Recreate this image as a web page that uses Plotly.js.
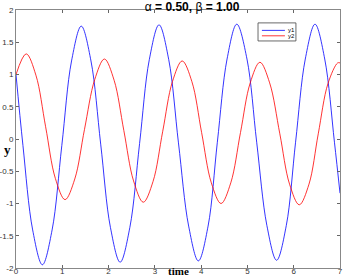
<!DOCTYPE html>
<html>
<head>
<meta charset="utf-8">
<script src="https://cdn.plot.ly/plotly-3.0.1.min.js"></script>
<style>
  html, body { margin: 0; padding: 0; background: #fff; }
  #grafico { width: 343px; height: 277px; }
</style>
</head>
<body>
<div id="grafico"></div>
<script>
// valores (extremos e pontos intermediarios)
const tempo1 = [0, 0.15, 0.36, 0.57, 0.78, 0.99, 1.20, 1.41, 1.62, 1.83, 2.04, 2.25, 2.46, 2.67, 2.88,
    3.09, 3.30, 3.51, 3.73, 3.94, 4.15, 4.35, 4.56, 4.77, 4.99, 5.20, 5.42, 5.63, 5.84, 6.04,
    6.25, 6.46, 6.67, 6.88, 7.00];
const y1 = [1.00, -0.10, -1.41, -1.95, -1.41, -0.10, 1.21, 1.75, 1.21, -0.08, -1.37, -1.91, -1.37, -0.07, 1.23,
    1.77, 1.23, -0.06, -1.35, -1.89, -1.35, -0.05, 1.24, 1.78, 1.24, -0.05, -1.34, -1.88, -1.34, -0.05,
    1.24, 1.78, 1.24, -0.05, -0.84];

const tempo2 = [0, 0.22, 0.43, 0.64, 0.85, 1.06, 1.27, 1.48, 1.70, 1.91, 2.12, 2.33, 2.54, 2.75, 2.96,
    3.17, 3.38, 3.59, 3.80, 4.01, 4.22, 4.43, 4.64, 4.85, 5.06, 5.27, 5.48, 5.70, 5.91, 6.12,
    6.33, 6.53, 6.74, 6.95, 7.00];
const y2 = [1.00, 1.32, 0.99, 0.19, -0.61, -0.94, -0.62, 0.15, 0.92, 1.24, 0.91, 0.13, -0.65, -0.98, -0.66,
    0.12, 0.89, 1.21, 0.89, 0.10, -0.68, -1.00, -0.68, 0.10, 0.87, 1.19, 0.87, 0.08, -0.70, -1.02,
    -0.70, 0.08, 0.86, 1.18, 1.18];

const nomes = ['y1', 'y2'];
const cores = ['rgb(0,0,255)', 'rgb(255,0,0)'];

const xTicks = [0, 1, 2, 3, 4, 5, 6, 7];
const yTicks = [-2, -1.5, -1, -0.5, 0, 0.5, 1, 1.5, 2];
const yTickText = ['-2', '-1.5', '-1', '-0.5', '0', '0.5', '1', '1.5', '2'];

var data = [
    {
        x: tempo1, y: y1, name: nomes[0], type: 'scatter', mode: 'lines',
        line: {color: cores[0], width: 0.8, shape: 'spline', smoothing: 1}
    },
    {
        x: tempo2, y: y2, name: nomes[1], type: 'scatter', mode: 'lines',
        line: {color: cores[1], width: 0.8, shape: 'spline', smoothing: 1}
    }
];

var eixo = {
    showline: true, linecolor: '#888', linewidth: 1, mirror: 'ticks',
    ticks: 'inside', ticklen: 3, tickcolor: '#666', tickwidth: 1,
    showgrid: false, zeroline: false,
    tickfont: {family: 'Liberation Sans', size: 8, color: '#333'}
};

// legenda pequena no estilo do matlab (caixa + amostras de linha)
var shapes = [
    {type: 'rect', xref: 'paper', yref: 'paper', x0: 0.747, x1: 0.864, y0: 0.880, y1: 0.950,
        fillcolor: '#fff', line: {color: '#444', width: 0.8}}
];
var annotations = [
    {text: '<b>time</b>', xref: 'paper', yref: 'paper', x: 0.5, y: -0.012,
        xanchor: 'center', yanchor: 'middle', showarrow: false,
        font: {family: 'Liberation Serif', size: 11, color: '#000'}},
    {text: '<b>y</b>', xref: 'paper', yref: 'paper', x: -0.025, y: 0.46,
        xanchor: 'center', yanchor: 'middle', showarrow: false,
        font: {family: 'Liberation Serif', size: 13, color: '#000'}}
];
var legY = [0.921, 0.900];
for (let i = 0; i < nomes.length; i++) {
    shapes.push({type: 'line', xref: 'paper', yref: 'paper', x0: 0.759, x1: 0.830, y0: legY[i], y1: legY[i],
        line: {color: cores[i], width: 0.8}});
    annotations.push({text: nomes[i], xref: 'paper', yref: 'paper', x: 0.834, y: legY[i],
        xanchor: 'left', yanchor: 'middle', showarrow: false,
        font: {family: 'Liberation Sans', size: 6, color: '#000'}});
}

var layout = {
    width: 343, height: 277,
    margin: {l: 16, r: 3, t: 10, b: 9},
    paper_bgcolor: '#fff', plot_bgcolor: '#fff',
    title: {
        text: 'α<b> = 0.50, </b>β<b> = 1.00</b>',
        font: {family: 'Liberation Sans', size: 12, color: '#000'},
        x: 0.56, xanchor: 'center', y: 0.975, yanchor: 'middle'
    },
    xaxis: Object.assign({}, eixo, {range: [0, 7], tickvals: xTicks, ticklabelstandoff: -5}),
    yaxis: Object.assign({}, eixo, {range: [-2, 2], tickvals: yTicks, ticktext: yTickText}),
    showlegend: false,
    shapes: shapes,
    annotations: annotations
};

Plotly.newPlot('grafico', data, layout, {staticPlot: true});
</script>
</body>
</html>
